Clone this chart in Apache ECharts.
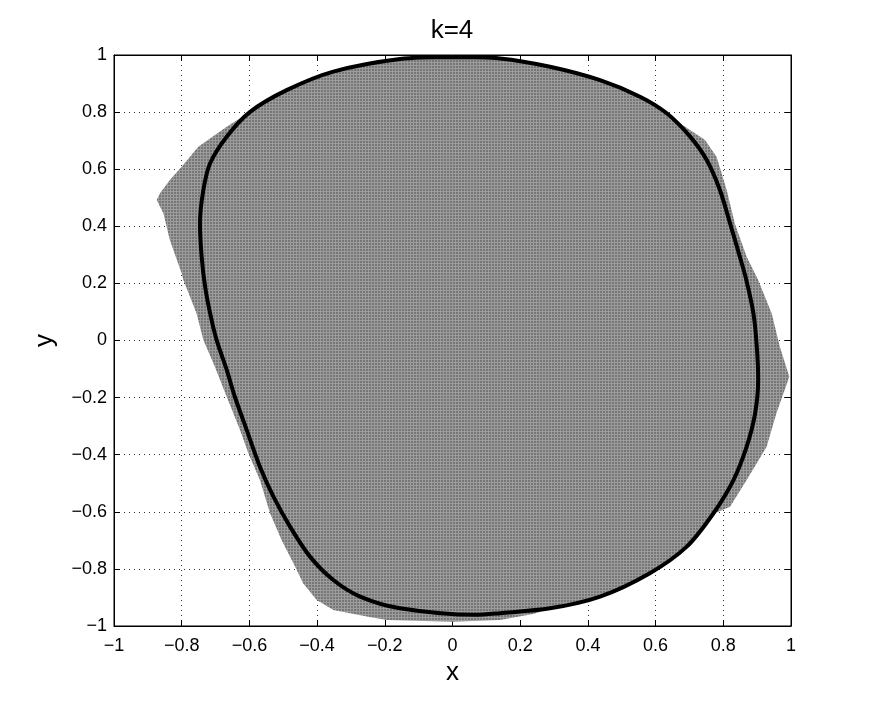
<!DOCTYPE html>
<html>
<head>
<meta charset="utf-8">
<script src="https://cdn.jsdelivr.net/npm/echarts@6/dist/echarts.min.js"></script>
<style>
  html, body { margin: 0; padding: 0; background: #fff; }
  #chart { width: 873px; height: 705px; }
</style>
</head>
<body>
<div id="chart"></div>
<script>
// axis ticks
const xTicks = [-1, -0.8, -0.6, -0.4, -0.2, 0, 0.2, 0.4, 0.6, 0.8, 1];
const yTicks = [-1, -0.8, -0.6, -0.4, -0.2, 0, 0.2, 0.4, 0.6, 0.8, 1];

const fillX = [-0.155, -0.352, -0.490, -0.598, -0.667, -0.751, -0.800, -0.835, -0.864, -0.874,
  -0.854, -0.835, -0.800, -0.795, -0.756, -0.736, -0.702, -0.667, -0.628, -0.603,
  -0.569, -0.539, -0.505, -0.465, -0.441, -0.401, -0.352, -0.253, -0.194, 0.000,
  0.140, 0.238, 0.337, 0.436, 0.583, 0.692, 0.771, 0.820, 0.869, 0.928,
  0.957, 0.995, 0.967, 0.943, 0.903, 0.869, 0.834, 0.810, 0.780, 0.746,
  0.672, 0.633, 0.554, 0.436, 0.288, 0.140, 0.000];
const fillY = [0.986, 0.942, 0.877, 0.801, 0.749, 0.679, 0.609, 0.562, 0.516, 0.492,
  0.446, 0.352, 0.235, 0.212, 0.095, 0.002, -0.092, -0.197, -0.313, -0.395,
  -0.489, -0.605, -0.699, -0.792, -0.851, -0.909, -0.944, -0.967, -0.979, -0.985,
  -0.979, -0.958, -0.920, -0.900, -0.818, -0.724, -0.607, -0.582, -0.489, -0.372,
  -0.255, -0.127, -0.022, 0.095, 0.212, 0.293, 0.410, 0.527, 0.644, 0.702,
  0.761, 0.796, 0.854, 0.912, 0.959, 0.988, 0.993];

// black closed curve
const curveX = [0.001, -0.155, -0.352, -0.490, -0.598, -0.667, -0.716, -0.736, -0.746, -0.741,
  -0.731, -0.716, -0.697, -0.667, -0.643, -0.608, -0.569, -0.529, -0.480, -0.421,
  -0.352, -0.273, -0.155, 0.067, 0.140, 0.288, 0.436, 0.583, 0.692, 0.771,
  0.830, 0.869, 0.894, 0.903, 0.899, 0.889, 0.868, 0.849, 0.820, 0.790,
  0.751, 0.702, 0.633, 0.554, 0.436, 0.288, 0.140, 0.001];
const curveY = [0.993, 0.986, 0.942, 0.877, 0.801, 0.714, 0.621, 0.527, 0.410, 0.293,
  0.190, 0.095, 0.002, -0.103, -0.197, -0.313, -0.442, -0.547, -0.652, -0.757,
  -0.839, -0.897, -0.938, -0.961, -0.955, -0.938, -0.897, -0.815, -0.722, -0.605,
  -0.489, -0.372, -0.255, -0.138, -0.022, 0.095, 0.212, 0.293, 0.410, 0.527,
  0.632, 0.714, 0.796, 0.854, 0.912, 0.959, 0.988, 0.993];

const fmt = v => {
  const r = Math.round(v * 10) / 10;
  return String(r).replace('-', '\u2212');
};
const font = '"Liberation Sans", Arial, sans-serif';

// small tile that mimics the dense grid of grey sample squares
const tile = document.createElement('canvas');
tile.width = 3; tile.height = 3;
const tc = tile.getContext('2d');
tc.fillStyle = '#9c9c9c';
tc.fillRect(0, 0, 3, 3);
tc.fillStyle = '#767676';
tc.fillRect(0, 0, 2, 2);

const chart = echarts.init(document.getElementById('chart'));
const baseAxis = {
  min: -1, max: 1, interval: 0.2,
  axisLine: { show: true, onZero: false, lineStyle: { color: '#000', width: 1 } },
  axisTick: { show: true, inside: true, length: 6, lineStyle: { color: '#000' } }
};
const gridLine = { show: true, lineStyle: { color: '#333', width: 1, type: [1, 4] } };
chart.setOption({
  animation: false,
  title: {
    text: 'k=4', left: 447, top: 13, textAlign: 'center',
    textStyle: { fontFamily: font, fontSize: 26, fontWeight: 'normal', color: '#000' }
  },
  grid: { left: 114, right: 82, top: 55, bottom: 79, show: true, borderColor: '#000', borderWidth: 1 },
  xAxis: [
    Object.assign({}, baseAxis, {
      type: 'value', position: 'bottom',
      name: 'x', nameLocation: 'middle', nameGap: 34,
      nameTextStyle: { fontFamily: font, fontSize: 26, color: '#000' },
      axisLabel: { formatter: fmt, fontFamily: font, fontSize: 18, color: '#000', margin: 11 },
      splitLine: gridLine
    }),
    Object.assign({}, baseAxis, {
      type: 'value', position: 'top', axisLabel: { show: false }, splitLine: { show: false }
    })
  ],
  yAxis: [
    Object.assign({}, baseAxis, {
      type: 'value', position: 'left',
      name: 'y', nameLocation: 'middle', nameGap: 56, nameRotate: 90,
      nameTextStyle: { fontFamily: font, fontSize: 26, color: '#000' },
      axisLabel: { formatter: fmt, fontFamily: font, fontSize: 18, color: '#000', margin: 7 },
      splitLine: gridLine
    }),
    Object.assign({}, baseAxis, {
      type: 'value', position: 'right', axisLabel: { show: false }, splitLine: { show: false }
    })
  ],
  series: [
    {
      type: 'custom',
      xAxisIndex: 0, yAxisIndex: 0,
      data: fillX.map((x, i) => [x, fillY[i]]),
      renderItem: (params, api) => {
        if (params.dataIndex > 0) return;
        const pts = fillX.map((x, i) => api.coord([x, fillY[i]]));
        return {
          type: 'polygon',
          shape: { points: pts },
          style: { fill: { image: tile, repeat: 'repeat' }, stroke: null }
        };
      },
      silent: true
    },
    {
      type: 'line',
      xAxisIndex: 0, yAxisIndex: 0,
      data: curveX.map((x, i) => [x, curveY[i]]),
      smooth: 0.3,
      showSymbol: false,
      lineStyle: { color: '#000', width: 4 },
      silent: true
    }
  ]
});
</script>
</body>
</html>
